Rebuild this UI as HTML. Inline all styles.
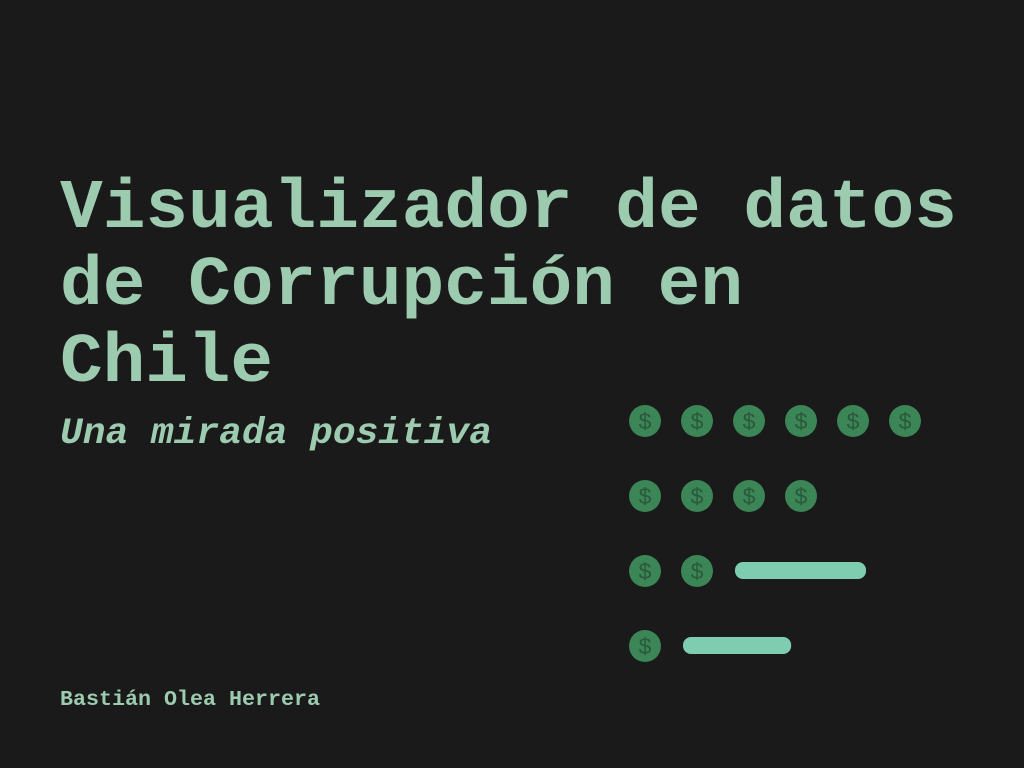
<!DOCTYPE html>
<html><head><meta charset="utf-8"><style>
html,body{margin:0;padding:0;background:#1a1a1a;width:1024px;height:768px;overflow:hidden}
svg{display:block}
text{font-family:"Liberation Mono",monospace;fill:#9ccbb0}
</style></head><body>
<svg id="s" width="1024" height="768" viewBox="0 0 1024 768">
<rect width="1024" height="768" fill="#1a1a1a"/>
<text x="60" y="227" font-size="70" font-weight="bold" textLength="897" lengthAdjust="spacingAndGlyphs">Visualizador de datos</text>
<text x="60" y="304" font-size="70" font-weight="bold" textLength="683" lengthAdjust="spacingAndGlyphs">de Corrupción en</text>
<text x="60" y="381" font-size="70" font-weight="bold" textLength="213" lengthAdjust="spacingAndGlyphs">Chile</text>
<text x="60" y="443" font-size="37" font-weight="bold" font-style="italic" textLength="432" lengthAdjust="spacingAndGlyphs">Una mirada positiva</text>
<text x="60" y="705" font-size="21" font-weight="bold" textLength="260" lengthAdjust="spacingAndGlyphs">Bastián Olea Herrera</text>
<g id="chart"></g>
</svg>
<script>
const coinCounts = [6, 4, 2, 1];
const barLengths = [0, 0, 2.52, 2.08];
const x0 = 645, step = 52, y0 = 421, rowStep = 75, r = 16;
const g = document.getElementById('chart');
const NS = 'http://www.w3.org/2000/svg';
coinCounts.forEach((n, i) => {
  const cy = y0 + i * rowStep;
  for (let j = 0; j < n; j++) {
    const cx = x0 + j * step;
    const c = document.createElementNS(NS, 'circle');
    c.setAttribute('cx', cx); c.setAttribute('cy', cy); c.setAttribute('r', r);
    c.setAttribute('fill', '#3b8556');
    
    
    g.appendChild(c);
    const t = document.createElementNS(NS, 'text');
    t.setAttribute('x', cx); t.setAttribute('y', cy + 8);
    t.setAttribute('text-anchor', 'middle');
    t.setAttribute('font-size', '23');
    t.setAttribute('style', 'fill:#2a5a3b');
    t.textContent = '$';
    
    
    g.appendChild(t);
  }
  if (barLengths[i] > 0) {
    const bx = x0 + n * step - r + 2;
    const b = document.createElementNS(NS, 'rect');
    b.setAttribute('x', bx); b.setAttribute('y', cy - 9);
    b.setAttribute('width', barLengths[i] * step); b.setAttribute('height', 17);
    b.setAttribute('rx', 8);
    b.setAttribute('fill', '#7fcdb0');
    
    
    g.appendChild(b);
  }
});
</script>
</body></html>
